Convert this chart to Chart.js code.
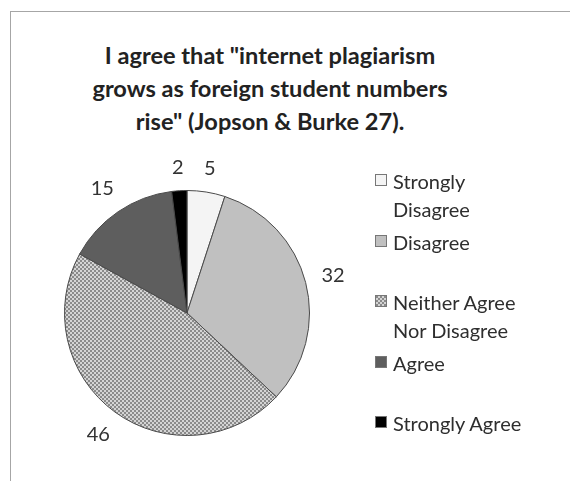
<!DOCTYPE html>
<html>
<head>
<meta charset="utf-8">
<script src="https://cdn.jsdelivr.net/npm/chart.js@4.4.1/dist/chart.umd.min.js"></script>
<style>
  html, body { margin: 0; padding: 0; background: #fff; }
  body { width: 570px; height: 481px; position: relative; overflow: hidden; font-family: Lato, "Open Sans", sans-serif; color: #222; }
  #frame { position: absolute; left: 10px; top: 11px; width: 600px; height: 520px; border: 1px solid #a6a6a6; box-sizing: border-box; }
  #title { position: absolute; left: 0; top: 39px; width: 540px; text-align: center; font-weight: bold; font-size: 23.6px; line-height: 33px; }
  #wrap { position: absolute; left: 0; top: 0; width: 570px; height: 481px; }
  #legend { position: absolute; left: 375px; top: 167px; font-size: 20px; line-height: 28px; color: #2e2e2e; }
  .item { height: 60.5px; position: relative; padding-left: 18px; }
  .sw { position: absolute; left: 0; top: 7px; width: 12px; height: 12px; border: 1px solid #777; box-sizing: border-box; }
</style>
</head>
<body>
<div id="frame"></div>
<div id="title">I agree that "internet plagiarism<br>grows as foreign student numbers<br>rise" (Jopson &amp; Burke 27).</div>
<div id="wrap"><canvas id="c" width="570" height="481"></canvas></div>
<div id="legend"></div>
<script>
const labels = ["Strongly Disagree", "Disagree", "Neither Agree Nor Disagree", "Agree", "Strongly Agree"];
const legendLines = [["Strongly", "Disagree"], ["Disagree"], ["Neither Agree", "Nor Disagree"], ["Agree"], ["Strongly Agree"]];
const counts = [5, 32, 46, 15, 2];

// small checker pattern for the "neither" slice
const pc = document.createElement("canvas");
pc.width = 4; pc.height = 4;
const pctx = pc.getContext("2d");
pctx.fillStyle = "#d4d4d4"; pctx.fillRect(0, 0, 4, 4);
pctx.fillStyle = "#8a8a8a"; pctx.fillRect(0, 0, 2, 2); pctx.fillRect(2, 2, 2, 2);
const checker = document.getElementById("c").getContext("2d").createPattern(pc, "repeat");

const fills = ["#f4f4f4", "#c0c0c0", checker, "#5e5e5e", "#000000"];
const swatchCss = ["#f4f4f4", "#c0c0c0", "url(" + pc.toDataURL() + ")", "#5e5e5e", "#000000"];

const outsideLabels = {
  id: "outsideLabels",
  afterDatasetsDraw(chart) {
    const ctx = chart.ctx;
    const meta = chart.getDatasetMeta(0);
    ctx.save();
    ctx.font = "20px Lato, 'Open Sans', sans-serif";
    ctx.fillStyle = "#333";
    ctx.textAlign = "center";
    ctx.textBaseline = "middle";
    meta.data.forEach((arc, i) => {
      const p = arc.getProps(["x", "y", "startAngle", "endAngle", "outerRadius"], true);
      const mid = (p.startAngle + p.endAngle) / 2;
      const txt = String(counts[i]);
      const w = ctx.measureText(txt).width;
      const d = p.outerRadius + 15 + Math.abs(Math.cos(mid)) * w / 2 + Math.abs(Math.sin(mid)) * 8;
      ctx.fillText(txt, p.x + Math.cos(mid) * d, p.y + Math.sin(mid) * d);
    });
    ctx.restore();
  }
};

new Chart(document.getElementById("c"), {
  type: "pie",
  data: {
    labels: labels,
    datasets: [{
      data: counts,
      backgroundColor: fills,
      borderColor: "#4a4a4a",
      borderWidth: 1,
    }],
  },
  options: {
    responsive: false,
    animation: false,
    layout: { padding: { left: 64, right: 260, top: 190, bottom: 45 } },
    plugins: {
      legend: { display: false },
      title: { display: false },
      tooltip: { enabled: false },
    },
  },
  plugins: [outsideLabels],
});

document.getElementById("legend").innerHTML = legendLines.map((lines, i) => `
  <div class="item"><span class="sw" style="background:${swatchCss[i]}"></span>${lines.join("<br>")}</div>`).join("");
</script>
</body>
</html>
